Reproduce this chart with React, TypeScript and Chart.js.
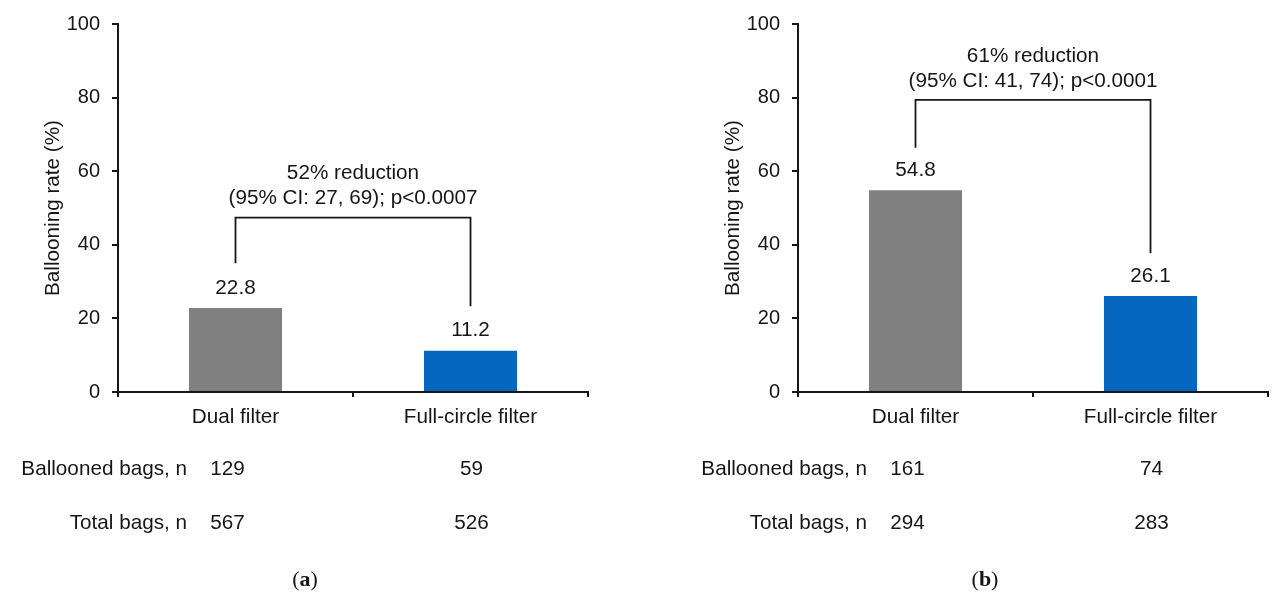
import React, { useEffect, useRef } from "react";
import { Chart, registerables } from "chart.js";

Chart.register(...registerables);

// ---------- data ----------
const categories = ["Dual filter", "Full-circle filter"];
const ratesA = [22.8, 11.2];
const ratesB = [54.8, 26.1];
const balloonedA = [129, 59];
const totalA = [567, 526];
const balloonedB = [161, 74];
const totalB = [294, 283];
const rowLabels = ["Ballooned bags, n", "Total bags, n"];
const reductionA = ["52% reduction", "(95% CI: 27, 69); p<0.0007"];
const reductionB = ["61% reduction", "(95% CI: 41, 74); p<0.0001"];
// bracket levels in % units: [top, left leg end, right leg end]
const bracketA = [47.4, 35, 23.3];
const bracketB = [79.4, 66.4, 37.7];
const yTickValues = [0, 20, 40, 60, 80, 100];
const panelLetters = ["a", "b"];
const barColors = ["#808080", "#0566BF"];

// ---------- styles ----------
const FONT = "'Liberation Sans', Arial, sans-serif";
const SERIF = "'Liberation Serif', 'DejaVu Serif', serif";
const FS = 20;
const FS2 = 20.7;
const TEXT = "#161616";
const LINE = "#161616";

const overlay = {
  id: "overlay",
  afterDraw(chart: any, _args: any, opts: any) {
    const { ctx } = chart;
    const x = chart.scales.x;
    const y = chart.scales.y;
    ctx.save();
    ctx.fillStyle = TEXT;
    ctx.font = `${FS2}px ${FONT}`;
    ctx.textAlign = "center";
    ctx.textBaseline = "middle";

    // value labels
    const meta = chart.getDatasetMeta(0);
    opts.values.forEach((v: number, i: number) => {
      const bar = meta.data[i];
      ctx.fillText(v.toFixed(1), bar.x, bar.y - 20);
    });

    // bracket
    const [top, le, re] = opts.bracket;
    const x0 = x.getPixelForValue(0);
    const x1 = x.getPixelForValue(1);
    const yt = y.getPixelForValue(top);
    const yl = y.getPixelForValue(le);
    const yr = y.getPixelForValue(re);
    ctx.strokeStyle = LINE;
    ctx.lineWidth = 1.8;
    ctx.beginPath();
    ctx.moveTo(x0, yl);
    ctx.lineTo(x0, yt);
    ctx.lineTo(x1, yt);
    ctx.lineTo(x1, yr);
    ctx.stroke();
    const xm = (x0 + x1) / 2;
    ctx.fillText(opts.note[0], xm, yt - 44);
    ctx.fillText(opts.note[1], xm, yt - 19);

    // table rows
    const rows = [opts.ballooned, opts.total];
    const rowY = [y.bottom + 77, y.bottom + 131];
    rows.forEach((row: number[], r: number) => {
      ctx.textAlign = "right";
      ctx.fillText(rowLabels[r], x.left + 69, rowY[r]);
      ctx.textAlign = "center";
      ctx.fillText(String(row[0]), x0 - 8, rowY[r]);
      ctx.fillText(String(row[1]), x1 + 1, rowY[r]);
    });

    // panel letter "(a)"
    const LFS = 22;
    const ly = y.bottom + 188;
    const cx = x.left + 187;
    ctx.textAlign = "left";
    ctx.font = `${LFS}px ${SERIF}`;
    const wp = ctx.measureText("(").width;
    const wc = ctx.measureText(")").width;
    ctx.font = `bold ${LFS}px ${SERIF}`;
    const wl = ctx.measureText(opts.letter).width;
    const total = wp + wl + wc;
    let sx = cx - total / 2;
    ctx.font = `${LFS}px ${SERIF}`;
    ctx.fillText("(", sx, ly);
    sx += wp;
    ctx.font = `bold ${LFS}px ${SERIF}`;
    ctx.fillText(opts.letter, sx, ly);
    sx += wl;
    ctx.font = `${LFS}px ${SERIF}`;
    ctx.fillText(")", sx, ly);
    ctx.restore();
  },
};

function makeConfig(values: number[], ballooned: number[], total: number[], note: string[], bracket: number[], letter: string, rightPad: number): any {
  return {
    type: "bar",
    data: {
      labels: categories,
      datasets: [
        {
          data: values,
          backgroundColor: barColors,
          categoryPercentage: 1,
          barPercentage: 0.396,
          borderWidth: 0,
        },
      ],
    },
    plugins: [overlay],
    options: {
      responsive: false,
      animation: false,
      layout: { padding: { left: 0, top: 23, right: rightPad, bottom: 165 } },
      plugins: {
        legend: { display: false },
        tooltip: { enabled: false },
        overlay: { values, ballooned, total, note, bracket, letter },
      },
      scales: {
        x: {
          afterFit: (s: any) => {
            s.height = 50;
          },
          grid: {
            display: true,
            drawOnChartArea: false,
            drawTicks: true,
            tickLength: 5,
            color: LINE,
            lineWidth: 2,
            offset: true,
          },
          border: { display: true, color: LINE, width: 2 },
          ticks: { font: { family: FONT, size: FS2 }, color: TEXT, padding: 8 },
        },
        y: {
          min: 0,
          max: 100,
          afterFit: (s: any) => {
            s.width = 118;
          },
          afterBuildTicks: (s: any) => {
            s.ticks = yTickValues.map((v) => ({ value: v }));
          },
          grid: {
            display: true,
            drawOnChartArea: false,
            drawTicks: true,
            tickLength: 6,
            color: LINE,
            lineWidth: 2,
          },
          border: { display: true, color: LINE, width: 2 },
          ticks: { font: { family: FONT, size: FS }, color: TEXT, padding: 12 },
          title: {
            display: true,
            text: "Ballooning rate (%)",
            font: { family: FONT, size: FS2 },
            color: TEXT,
            padding: { top: 41, bottom: 0 },
          },
        },
      },
    },
  };
}

export default function App() {
  const refA = useRef<HTMLCanvasElement | null>(null);
  const refB = useRef<HTMLCanvasElement | null>(null);

  useEffect(() => {
    const a = new Chart(refA.current as HTMLCanvasElement, makeConfig(ratesA, balloonedA, totalA, reductionA, bracketA, panelLetters[0], 92));
    const b = new Chart(refB.current as HTMLCanvasElement, makeConfig(ratesB, balloonedB, totalB, reductionB, bracketB, panelLetters[1], 6));
    return () => {
      a.destroy();
      b.destroy();
    };
  }, []);

  return (
    <div style={{ position: "absolute", left: 0, top: 0, width: 1274, height: 607, background: "#fff" }}>
      <canvas ref={refA} width={680} height={607} style={{ position: "absolute", left: 0, top: 0, width: 680, height: 607 }} />
      <canvas ref={refB} width={594} height={607} style={{ position: "absolute", left: 680, top: 0, width: 594, height: 607 }} />
    </div>
  );
}
